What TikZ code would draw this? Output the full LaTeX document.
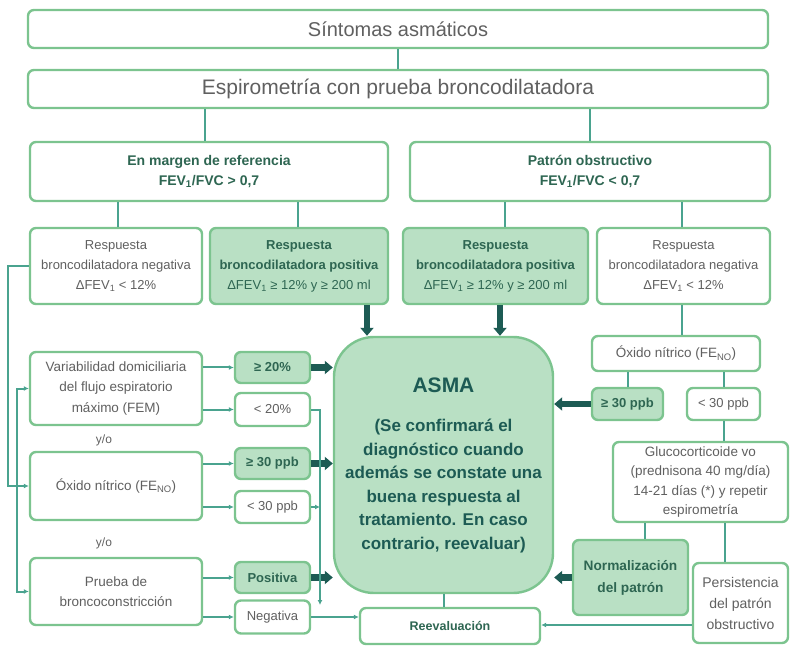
\documentclass[tikz,border=0pt]{standalone}
\usepackage{fontspec}
\setmainfont{Liberation Sans}
\usetikzlibrary{arrows.meta}
\definecolor{boxline}{HTML}{7CC48F}
\definecolor{boxfill}{HTML}{B9E0C4}
\definecolor{conn}{HTML}{4AA38F}
\definecolor{darkarr}{HTML}{1D5B54}
\definecolor{txtgray}{HTML}{606060}
\definecolor{txtgreen}{HTML}{2E6652}
\tikzset{box/.style={draw=boxline, line width=2.4pt, rounded corners=6pt, fill=white, align=center, inner sep=1pt, text=txtgray, font=\fontsize{13}{20}\selectfont}}
\tikzset{gbox/.style={box, fill=boxfill, text=txtgreen, font=\fontsize{13}{20}\selectfont\bfseries}}
\tikzset{wh/.style 2 args={minimum width=#1pt, minimum height=#2pt}}
\tikzset{con/.style={draw=conn, line width=2pt}}
\tikzset{tip/.style={con, -{Latex[length=5pt,width=5pt]}}}
\tikzset{fat/.style={draw=darkarr, line width=6.5pt, -{Triangle[length=8pt,width=13pt]}}}

\begin{document}
\begin{tikzpicture}[x=1pt, y=-1pt]
\useasboundingbox (0,0) rectangle (796,647);

% top rows
\node[box, wh={740}{38}, font=\fontsize{20}{23}\selectfont] (sint) at (398,29) {Síntomas asmáticos};
\node[box, wh={740}{38}, font=\fontsize{21}{24}\selectfont] (espi) at (398,89) {Espirometría con prueba broncodilatadora};
\node[box, wh={358}{59}, text=txtgreen, font=\fontsize{14}{20}\selectfont\bfseries] (marg) at (209,171.5) {En margen de referencia\\FEV\textsubscript{1}/FVC > 0,7};
\node[box, wh={360}{59}, text=txtgreen, font=\fontsize{14}{20}\selectfont\bfseries] (obst) at (590,171.5) {Patrón obstructivo\\FEV\textsubscript{1}/FVC < 0,7};

% respuesta broncodilatadora
\node[box, wh={172}{76}] (negL) at (116,266) {Respuesta\\broncodilatadora negativa\\ΔFEV\textsubscript{1} < 12\%};
\node[gbox, wh={178}{76}] (posL) at (299,266) {Respuesta\\broncodilatadora positiva\\\mdseries ΔFEV\textsubscript{1} ≥ 12\% y ≥ 200 ml};
\node[gbox, wh={185}{76}] (posR) at (495.5,266) {Respuesta\\broncodilatadora positiva\\\mdseries ΔFEV\textsubscript{1} ≥ 12\% y ≥ 200 ml};
\node[box, wh={173}{76}] (negR) at (683.5,266) {Respuesta\\broncodilatadora negativa\\ΔFEV\textsubscript{1} < 12\%};

% centre
\node[gbox, wh={219}{256}, rounded corners=40pt, text=darkarr, font=\fontsize{17}{23.5}\selectfont\bfseries] (asma) at (443.5,465)
  {{\fontsize{21}{24}\selectfont ASMA}\\[16pt](Se confirmará el\\diagnóstico cuando\\además se constate una\\buena respuesta al\\tratamiento. En caso\\contrario, reevaluar)};
\node[box, wh={180}{36}, text=txtgreen, font=\fontsize{12.5}{15}\selectfont\bfseries] (reev) at (450,626) {Reevaluación};

% left column
\node[box, wh={172}{73}, font=\fontsize{13.5}{20.5}\selectfont] (vari) at (116,388.5) {Variabilidad domiciliaria\\del flujo espiratorio\\máximo (FEM)};
\node[box, wh={172}{68}, font=\fontsize{13.5}{20.5}\selectfont] (oxiL) at (116,486) {Óxido nítrico (FE\textsubscript{NO})};
\node[box, wh={172}{67}, font=\fontsize{13.5}{20.5}\selectfont] (prue) at (116,591.5) {Prueba de\\broncoconstricción};
\node[text=txtgray, font=\fontsize{12}{13}\selectfont] (yo1) at (104,440) {y/o};
\node[text=txtgray, font=\fontsize{12}{13}\selectfont] (yo2) at (104,543) {y/o};

\node[gbox, wh={75}{31}] (ge20) at (272.5,367.5) {≥ 20\%};
\node[box, wh={75}{33}] (lt20) at (272.5,409.5) {< 20\%};
\node[gbox, wh={75}{31}] (ge30L) at (272.5,463.5) {≥ 30 ppb};
\node[box, wh={75}{32}] (lt30L) at (272.5,507) {< 30 ppb};
\node[gbox, wh={75}{31}] (posi) at (272.5,577.5) {Positiva};
\node[box, wh={75}{33}] (nega) at (272.5,617) {Negativa};

% right column
\node[box, wh={168}{35}, font=\fontsize{13.5}{20}\selectfont] (oxiR) at (676,353.5) {Óxido nítrico (FE\textsubscript{NO})};
\node[gbox, wh={71}{32}] (ge30R) at (627.5,404) {≥ 30 ppb};
\node[box, wh={73}{32}] (lt30R) at (723.5,404) {< 30 ppb};
\node[box, wh={175}{80}, font=\fontsize{13.5}{19.5}\selectfont] (gluc) at (700.5,482) {Glucocorticoide vo\\(prednisona 40 mg/día)\\14-21 días (*) y repetir\\espirometría};
\node[gbox, wh={115}{75}, font=\fontsize{13.7}{22}\selectfont\bfseries] (norm) at (630.5,577.5) {Normalización\\del patrón};
\node[box, wh={95}{80}, font=\fontsize{14}{21}\selectfont] (pers) at (740.5,603) {Persistencia\\del patrón\\obstructivo};

% columns for the vertical connectors
\coordinate (kA) at (205,0);
\coordinate (kB) at (590,0);
\coordinate (kC) at (118,0);
\coordinate (kD) at (298,0);
\coordinate (kE) at (505,0);
\coordinate (kF) at (682,0);
\coordinate (kG) at (367,0);
\coordinate (kH) at (500,0);
\coordinate (kL) at (8,0);
\coordinate (kM) at (17,0);
\coordinate (kO) at (645,0);
\coordinate (kP) at (725,0);
\coordinate (drop) at (320,605);
\coordinate (pp) at ([yshift=-22pt]pers.west);

\draw[con] (sint) -- (espi);
\draw[con] (espi.south -| kA) -- (marg.north -| kA);
\draw[con] (espi.south -| kB) -- (obst.north -| kB);
\draw[con] (marg.south -| kC) -- (negL.north -| kC);
\draw[con] (marg.south -| kD) -- (posL.north -| kD);
\draw[con] (obst.south -| kE) -- (posR.north -| kE);
\draw[con] (obst.south -| kF) -- (negR.north -| kF);

\draw[fat] (posL.south -| kG) -- (asma.north -| kG);
\draw[fat] (posR.south -| kH) -- (asma.north -| kH);

% left trunk
\draw[tip] (negL.west) -- (negL.west -| kL) |- (oxiL.west);
\draw[tip] (oxiL.west -| kL) -- (oxiL.west -| kM) |- (vari.west);
\draw[tip] (oxiL.west -| kM) |- (prue.west);

\draw[tip] (vari.east |- ge20) -- (ge20.west);
\draw[tip] (vari.east |- lt20) -- (lt20.west);
\draw[tip] (oxiL.east |- ge30L) -- (ge30L.west);
\draw[tip] (oxiL.east |- lt30L) -- (lt30L.west);
\draw[tip] (prue.east |- posi) -- (posi.west);
\draw[tip] (prue.east |- nega) -- (nega.west);

\draw[fat] (ge20.east) -- (asma.west |- ge20.east);
\draw[fat] (ge30L.east) -- (asma.west |- ge30L.east);
\draw[fat] (posi.east) -- (asma.west |- posi.east);

\draw[tip] (lt20.east) -| (drop);
\draw[tip] (lt30L.east) -- (lt30L.east -| drop);
\draw[tip] (nega.east) -- (nega.east -| reev.west);
\draw[con] (asma.south) -- (asma.south |- reev.north);

% right side
\draw[con] (negR.south -| kF) -- (oxiR.north -| kF);
\draw[con] (oxiR.south -| ge30R) -- (ge30R.north);
\draw[con] (oxiR.south -| lt30R) -- (lt30R.north);
\draw[fat] (ge30R.west) -- (asma.east |- ge30R.west);
\draw[con] (lt30R.south) -- (gluc.north -| lt30R);
\draw[con] (gluc.south -| kO) -- (norm.north -| kO);
\draw[con] (gluc.south -| kP) -- (pers.north -| kP);
\draw[fat] (norm.west) -- (asma.east |- norm.west);
\draw[tip] (pp) -- (pp -| reev.east);
\end{tikzpicture}
\end{document}
